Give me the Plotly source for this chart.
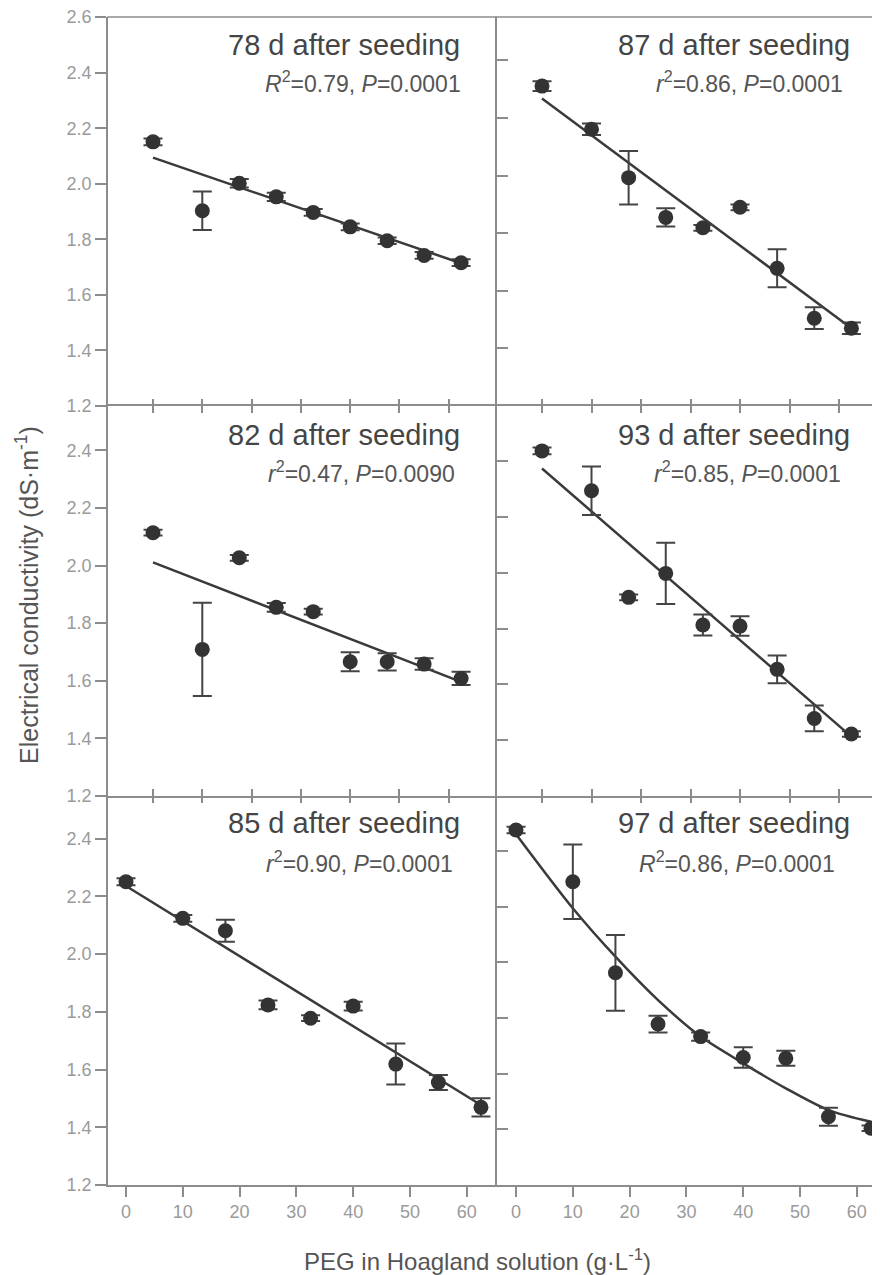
import plotly.graph_objects as go

# The page body has an 8px margin, so the figure is 8px smaller and all
# reference pixel positions are shifted by 8px.
OFF = 8
W, H = 880 - OFF, 1275 - OFF

peg = [0, 10, 17.5, 25, 32.5, 40, 47.5, 55, 62.5]
tick_x = [0, 10, 20, 30, 40, 50, 60]
tick_y = [1.2, 1.4, 1.6, 1.8, 2.0, 2.2, 2.4, 2.6]

# panel data (values read against each panel's own axis)
ec_78 = [2.151, 1.903, 2.002, 1.953, 1.897, 1.845, 1.795, 1.742, 1.716]
se_78 = [0.012, 0.069, 0.015, 0.015, 0.012, 0.012, 0.012, 0.012, 0.012]
fitx_78 = [0, 62.5]
fit_78 = [2.094, 1.714]

ec_87 = [2.311, 2.161, 1.993, 1.855, 1.819, 1.890, 1.678, 1.505, 1.470]
se_87 = [0.017, 0.020, 0.093, 0.032, 0.010, 0.010, 0.066, 0.038, 0.020]
fitx_87 = [0, 62.5]
fit_87 = [2.268, 1.470]

ec_82 = [2.114, 1.709, 2.027, 1.855, 1.840, 1.666, 1.666, 1.658, 1.608]
se_82 = [0.010, 0.162, 0.010, 0.015, 0.010, 0.033, 0.030, 0.020, 0.023]
fitx_82 = [0, 62.5]
fit_82 = [2.011, 1.596]

ec_93 = [2.437, 2.294, 1.912, 1.998, 1.813, 1.809, 1.654, 1.478, 1.422]
se_93 = [0.012, 0.087, 0.010, 0.110, 0.038, 0.035, 0.050, 0.046, 0.010]
fitx_93 = [0, 62.5]
fit_93 = [2.374, 1.413]

ec_85 = [2.251, 2.124, 2.081, 1.824, 1.778, 1.820, 1.619, 1.555, 1.469]
se_85 = [0.012, 0.012, 0.038, 0.015, 0.010, 0.015, 0.071, 0.026, 0.032]
fitx_85 = [0, 62.5]
fit_85 = [2.236, 1.477]

ec_97 = [2.475, 2.289, 1.962, 1.778, 1.733, 1.658, 1.655, 1.445, 1.404]
se_97 = [0.012, 0.134, 0.136, 0.030, 0.015, 0.037, 0.027, 0.032, 0.010]
fitx_97 = [0, 10, 17.5, 25, 32.5, 40, 47.5, 55, 62.5]
fit_97 = [2.460, 2.194, 2.020, 1.864, 1.733, 1.637, 1.547, 1.469, 1.427]

titles = ["78 d after seeding", "87 d after seeding", "82 d after seeding",
          "93 d after seeding", "85 d after seeding", "97 d after seeding"]
stats = ["<i>R</i><sup>2</sup>=0.79, <i>P</i>=0.0001",
         "<i>r</i><sup>2</sup>=0.86, <i>P</i>=0.0001",
         "<i>r</i><sup>2</sup>=0.47, <i>P</i>=0.0090",
         "<i>r</i><sup>2</sup>=0.85, <i>P</i>=0.0001",
         "<i>r</i><sup>2</sup>=0.90, <i>P</i>=0.0001",
         "<i>R</i><sup>2</sup>=0.86, <i>P</i>=0.0001"]

panels = [
    (ec_78, se_78, fitx_78, fit_78, "linear"),
    (ec_87, se_87, fitx_87, fit_87, "linear"),
    (ec_82, se_82, fitx_82, fit_82, "linear"),
    (ec_93, se_93, fitx_93, fit_93, "linear"),
    (ec_85, se_85, fitx_85, fit_85, "linear"),
    (ec_97, se_97, fitx_97, fit_97, "spline"),
]

# ---------- layout geometry (page pixels) ----------
XL0, XMID, XR1 = 108, 497, 880
ROWS = [(17, 406), (406, 796), (796, 1185)]
def px(x): return (x - OFF) / W
def py(y): return 1 - (y - OFF) / H

xr = [[-9.13, 69.78], [-9.09, 68.28],
      [-9.13, 69.78], [-9.09, 68.28],
      [-3.17, 65.32], [-3.35, 64.08]]
yr = [[1.2, 2.6005], [1.2, 2.551],
      [1.2, 2.554], [1.2, 2.598],
      [1.2, 2.548], [1.2, 2.597]]

LINE = "#8c8c8c"
FONT = "Liberation Sans, Arial, sans-serif"
TICKFONT = dict(family=FONT, size=18, color="#9a9a9a")
DARK = "#333333"

fig = go.Figure()
layout = dict(width=W, height=H, margin=dict(l=0, r=0, t=0, b=0),
              plot_bgcolor="white", paper_bgcolor="white", showlegend=False,
              template="none", font=dict(family=FONT, color="#444444"))

for i, (ec, se, fx, fy, shape) in enumerate(panels):
    n = i + 1
    row, col = divmod(i, 2)
    xs = "x" if n == 1 else f"x{n}"
    ys = "y" if n == 1 else f"y{n}"
    fig.add_trace(go.Scatter(x=fx, y=fy, mode="lines", xaxis=xs, yaxis=ys,
                             line=dict(color="#3a3a3a", width=2.5, shape=shape, smoothing=0.8),
                             hoverinfo="skip"))
    fig.add_trace(go.Scatter(x=peg, y=ec, mode="markers", xaxis=xs, yaxis=ys,
                             marker=dict(size=15, color=DARK),
                             error_y=dict(type="data", array=se, visible=True,
                                          color="#444444", thickness=2, width=9.5)))
    xd = [px(XL0), px(XMID)] if col == 0 else [px(XMID), 1.0]
    top, bot = ROWS[row]
    yd = [py(bot), py(top)]
    bottom_row = row == 2
    xa = dict(domain=xd, range=xr[i], anchor=ys, showline=(row != 0), linecolor=LINE,
              linewidth=1.5, tickmode="array", tickvals=tick_x,
              ticks="outside" if bottom_row else "inside",
              ticklen=10 if bottom_row else 7, tickwidth=1.5, tickcolor=LINE,
              showticklabels=bottom_row, tickfont=TICKFONT, showgrid=False,
              zeroline=False, automargin=False, ticklabeloverflow="allow",
              mirror="ticks" if row == 1 else False)
    ya = dict(domain=yd, range=yr[i], anchor=xs, showline=True, linecolor=LINE,
              linewidth=1.5, tickmode="array", tickformat=".1f",
              tickvals=tick_y if n == 1 else tick_y[:-1],
              ticks="outside" if col == 0 else "inside", ticklen=11,
              tickwidth=1.5, tickcolor=LINE, showticklabels=(col == 0),
              tickfont=TICKFONT, showgrid=False, zeroline=False, automargin=False,
              ticklabeloverflow="allow")
    layout["xaxis" if n == 1 else f"xaxis{n}"] = xa
    layout["yaxis" if n == 1 else f"yaxis{n}"] = ya

# extra top tick rows on the bottom panels (carry the middle-row scale)
for k, (base, src) in enumerate([(5, 3), (6, 4)]):
    m = 7 + k
    layout[f"xaxis{m}"] = dict(overlaying=f"x{base}", side="top", anchor=f"y{base}",
                               range=xr[src - 1], tickmode="array", tickvals=tick_x,
                               ticks="inside", ticklen=7, tickwidth=1.5, tickcolor=LINE,
                               showticklabels=False, showline=False, showgrid=False,
                               zeroline=False, automargin=False)
    fig.add_trace(go.Scatter(x=[None], y=[None], xaxis=f"x{m}", yaxis=f"y{base}",
                             mode="markers", hoverinfo="skip"))

# top border of the figure frame
layout["shapes"] = [dict(type="line", xref="paper", yref="paper",
                         x0=px(XL0) - 0.001, x1=1.0, y0=py(ROWS[0][0]), y1=py(ROWS[0][0]),
                         line=dict(color=LINE, width=1.5))]

# panel titles and statistics (right edges / centres in page pixels)
title_pos = [(462, 45, 463, 82), (852, 45, 845, 82),
             (462, 435, 457, 472), (852, 435, 843, 472),
             (462, 823, 455, 862), (852, 823, 837, 862)]
ann = []
for i, (tx, ty, sx, sy) in enumerate(title_pos):
    ann.append(dict(text=titles[i], x=px(tx), y=py(ty), xref="paper", yref="paper",
                    xanchor="right", yanchor="middle", showarrow=False,
                    font=dict(size=29, color="#454545")))
    ann.append(dict(text=stats[i], x=px(sx), y=py(sy), xref="paper", yref="paper",
                    xanchor="right", yanchor="middle", showarrow=False,
                    font=dict(size=23, color="#555555")))
ann.append(dict(text="Electrical conductivity (dS·m<sup>-1</sup>)", x=px(27), y=py(595),
                xref="paper", yref="paper", textangle=-90, showarrow=False,
                xanchor="center", yanchor="middle", font=dict(size=25, color="#555555")))
ann.append(dict(text="PEG in Hoagland solution (g·L<sup>-1</sup>)", x=px(477), y=py(1260),
                xref="paper", yref="paper", showarrow=False,
                xanchor="center", yanchor="middle", font=dict(size=24, color="#555555")))
layout["annotations"] = ann

fig.update_layout(**layout)
fig.write_html("out.html")
